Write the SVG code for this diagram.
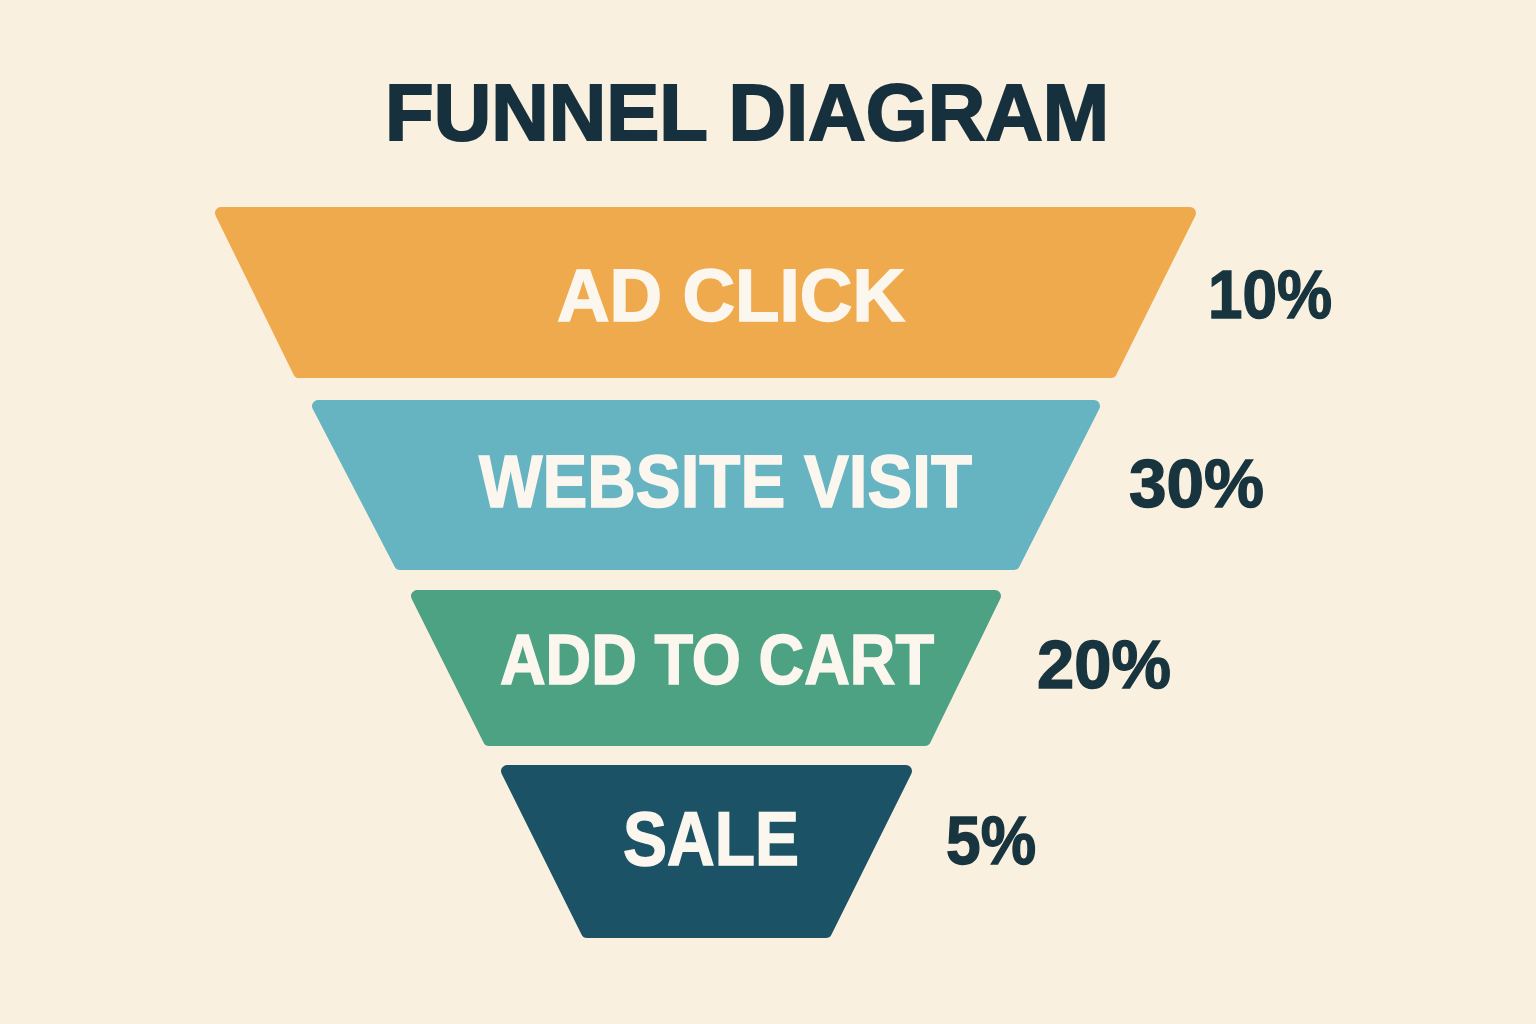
<svg xmlns="http://www.w3.org/2000/svg" width="1536" height="1024" viewBox="0 0 1536 1024">
<style>
.stage{stroke-linejoin:round;stroke-width:12}
.lbl{font-family:"Liberation Sans",Arial,sans-serif;font-weight:bold;fill:#FCF7EE;stroke:#FCF7EE;stroke-width:1.5}
.pct{font-family:"Liberation Sans",Arial,sans-serif;font-weight:bold;fill:#17343F;stroke:#17343F;stroke-width:1.4;font-size:68px}
.title{font-family:"Liberation Sans",Arial,sans-serif;font-weight:bold;fill:#17303D;stroke:#17303D;stroke-width:2;font-size:80px}
</style>
<rect width="1536" height="1024" fill="#FAF0DF"/>
<text class="title" x="385" y="140" textLength="724" lengthAdjust="spacingAndGlyphs">FUNNEL DIAGRAM</text>
<g id="stage-ad-click">
<polygon class="stage" fill="#F0AA4E" stroke="#F0AA4E" points="221,213 1190,213 1111,372 299,372"/>
<text class="lbl" font-size="74" x="557" y="321" textLength="348" lengthAdjust="spacingAndGlyphs">AD CLICK</text>
<text class="pct" x="1208" y="318" textLength="124" lengthAdjust="spacingAndGlyphs">10%</text>
</g>
<g id="stage-website-visit">
<polygon class="stage" fill="#66B3C1" stroke="#66B3C1" points="318,406 1094,406 1014,564 400,564"/>
<text class="lbl" font-size="74" x="479" y="507" textLength="493" lengthAdjust="spacingAndGlyphs">WEBSITE VISIT</text>
<text class="pct" x="1129" y="507" textLength="135" lengthAdjust="spacingAndGlyphs">30%</text>
</g>
<g id="stage-add-to-cart">
<polygon class="stage" fill="#4DA283" stroke="#4DA283" points="417,596 995,596 925,740 489,740"/>
<text class="lbl" font-size="71" x="500" y="684" textLength="434" lengthAdjust="spacingAndGlyphs">ADD TO CART</text>
<text class="pct" x="1037" y="688" textLength="134" lengthAdjust="spacingAndGlyphs">20%</text>
</g>
<g id="stage-sale">
<polygon class="stage" fill="#1B5265" stroke="#1B5265" points="507,771 906,771 826,932 587,932"/>
<text class="lbl" font-size="76" x="623" y="865" textLength="176" lengthAdjust="spacingAndGlyphs">SALE</text>
<text class="pct" x="946" y="864" textLength="90" lengthAdjust="spacingAndGlyphs">5%</text>
</g>
<g id="connectors"></g>
</svg>
